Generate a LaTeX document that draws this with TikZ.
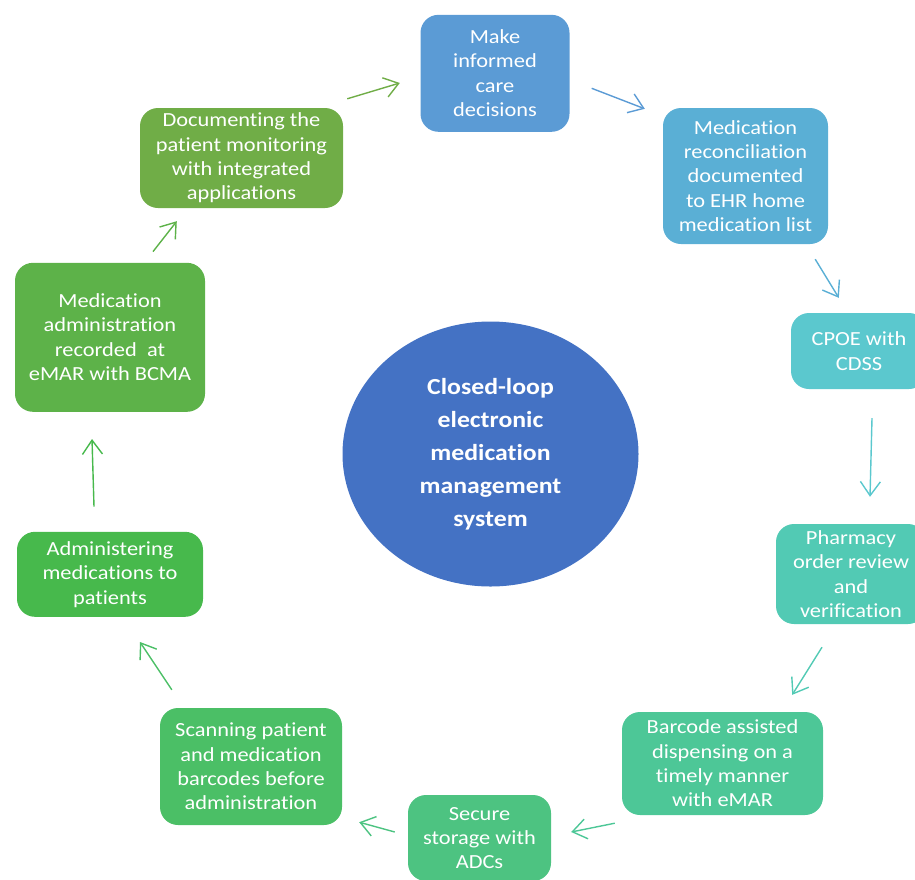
\documentclass[tikz,border=0pt]{standalone}
\usepackage{fontspec}
\setmainfont{Carlito}[FakeStretch=1.12, Ligatures=NoCommon]
\usetikzlibrary{arrows.meta,calc,shapes.geometric}

\definecolor{hubblue}{HTML}{4472C4}
\definecolor{cMake}{HTML}{5B9BD5}
\definecolor{cRecon}{HTML}{5AAFD5}
\definecolor{cCpoe}{HTML}{5BC8CE}
\definecolor{cPharm}{HTML}{52CAB4}
\definecolor{cBarcode}{HTML}{4DC797}
\definecolor{cSecure}{HTML}{4DC381}
\definecolor{cScan}{HTML}{4BBF66}
\definecolor{cAdmin}{HTML}{47B94C}
\definecolor{cRecord}{HTML}{5DB249}
\definecolor{cDoc}{HTML}{70AD47}

\begin{document}
\begin{tikzpicture}[
  x=1pt, y=-1pt,
  stepbox/.style={
    rectangle, rounded corners=18pt, align=center, inner sep=0pt,
    text=white, font=\fontsize{20}{24.4}\selectfont
  },
  hub/.style={
    ellipse, fill=hubblue, align=center, inner sep=0pt, text=white,
    font=\fontsize{23}{33}\bfseries\selectfont
  },
  arrow/.style={-{Straight Barb[length=14pt,width=20pt]}, line width=1.4pt}
]
\clip (0,0) rectangle (915,879);

\node[hub, minimum width=296pt, minimum height=265pt] (hub) at (490.5,454)
  {Closed-loop\\electronic\\medication\\management\\system};

\node[stepbox, fill=cMake, minimum width=149pt, minimum height=117pt] (make) at (495,73.3)
  {Make\\informed\\care\\decisions};
\node[stepbox, fill=cRecon, minimum width=165pt, minimum height=136pt] (recon) at (745.5,176)
  {Medication\\reconciliation\\documented\\to EHR home\\medication list};
\node[stepbox, fill=cCpoe, minimum width=136pt, minimum height=76pt] (cpoe) at (859,351)
  {CPOE with\\CDSS};
\node[stepbox, fill=cPharm, minimum width=150pt, minimum height=100pt] (pharm) at (851,574)
  {Pharmacy\\order review\\and\\verification};
\node[stepbox, fill=cBarcode, minimum width=201pt, minimum height=103pt] (barcode) at (722.5,763.5)
  {Barcode assisted\\dispensing on a\\timely manner\\with eMAR};
\node[stepbox, fill=cSecure, minimum width=143pt, minimum height=86pt] (secure) at (479.5,838)
  {Secure\\storage with\\ADCs};
\node[stepbox, fill=cScan, minimum width=182pt, minimum height=117pt] (scan) at (251,766.5)
  {Scanning patient\\and medication\\barcodes before\\administration};
\node[stepbox, fill=cAdmin, minimum width=186pt, minimum height=85pt] (admin) at (110,574.3)
  {Administering\\medications to\\patients};
\node[stepbox, fill=cRecord, minimum width=190pt, minimum height=149pt] (record) at (110,337.3)
  {Medication\\administration\\recorded\ \ at\\eMAR with BCMA};
\node[stepbox, fill=cDoc, minimum width=203pt, minimum height=100pt] (doc) at (241.5,158)
  {Documenting the\\patient monitoring\\with integrated\\applications};

% the cycle
\draw[arrow, cDoc] ($(doc.north east)+(4,-9)$) -- ($(make.west)+(-20.5,9.7)$);
\draw[arrow, cMake] ($(make.east)+(22,15)$) -- ($(recon.north west)+(-18,1)$);
\draw[arrow, cRecon] ($(recon.south east)+(-13,15)$) -- ($(cpoe.north west)+(48,-15)$);
\draw[arrow, cCpoe] ($(cpoe.south)+(13,29)$) -- ($(pharm.north)+(19,-27)$);
\draw[arrow, cPharm] ($(pharm.south)+(-29,23)$) -- ($(barcode.north east)+(-31,-17)$);
\draw[arrow, cBarcode] ($(barcode.south west)+(-7,8)$) -- ($(secure.east)+(20,-6)$);
\draw[arrow, cSecure] ($(secure.west)+(-13,-6)$) -- ($(scan.south east)+(17,-3)$);
\draw[arrow, cScan] ($(scan.north west)+(12,-18)$) -- ($(admin.south)+(30,25)$);
\draw[arrow, cAdmin] ($(admin.north)+(-16,-25)$) -- ($(record.south)+(-18,27)$);
\draw[arrow, cRecord] ($(record.north)+(43,-11)$) -- ($(doc.south west)+(37,13)$);

\end{tikzpicture}
\end{document}
